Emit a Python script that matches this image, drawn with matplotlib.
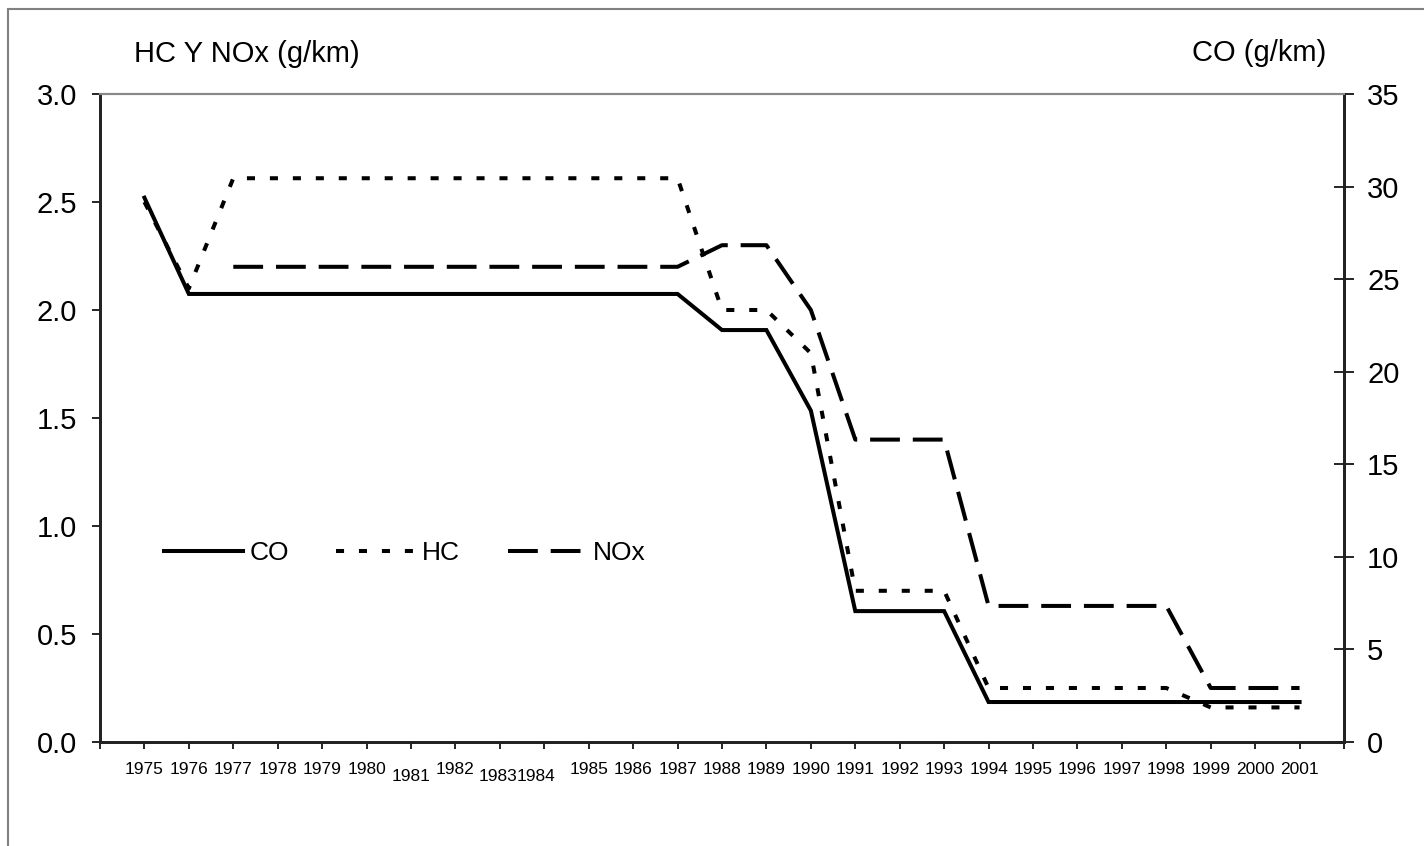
import numpy as np
import matplotlib
matplotlib.use("Agg")
import matplotlib.pyplot as plt
from matplotlib.patches import Rectangle
import matplotlib.transforms as mtrans

plt.rcParams['font.family'] = ['Liberation Sans', 'DejaVu Sans']

years = list(range(1975, 2002))
co = [29.4] + [24.2] * 12 + [22.25, 22.25, 17.9, 7.07, 7.07, 7.07] + [2.16] * 8
hc = [2.5, 2.1] + [2.61] * 11 + [2.0, 2.0, 1.8, 0.7, 0.7, 0.7] + [0.25] * 5 + [0.16] * 3
nox = [np.nan, np.nan] + [2.2] * 11 + [2.3, 2.3, 2.0, 1.4, 1.4, 1.4] + [0.63] * 5 + [0.25] * 3
left_ticks = [0.0, 0.5, 1.0, 1.5, 2.0, 2.5, 3.0]
right_ticks = [0, 5, 10, 15, 20, 25, 30, 35]
lowered = {1981: 0.0, 1983: -0.05, 1984: -0.18}

W, H = 1424, 846
fig = plt.figure(figsize=(W / 100, H / 100), dpi=100)
ax = fig.add_axes([100 / W, 1 - 742 / H, (1344 - 100) / W, (742 - 94) / H])
ax2 = ax.twinx()

lw = 2.9
l_hc, = ax.plot(years, hc, color='black', lw=lw, linestyle=(0, (2.0, 3.7)), dash_capstyle='butt')
l_nox, = ax.plot(years, nox, color='black', lw=lw, linestyle=(0, (7.4, 3.2)), dash_capstyle='butt')
l_co, = ax2.plot(years, co, color='black', lw=lw, solid_joinstyle='miter')

ax.set_xlim(1974, 2002)
ax.set_ylim(0, 3.0)
ax2.set_ylim(0, 35)
ax.set_yticks(left_ticks)
ax.set_yticklabels([f"{v:.1f}" for v in left_ticks], fontsize=21)
ax2.set_yticks(right_ticks)
ax2.set_yticklabels([str(v) for v in right_ticks], fontsize=21)
ax.set_xticks(list(range(1974, 2003)))
ax.set_xticklabels([])
ax.tick_params(axis='x', direction='out', length=5, width=1.2, color='black')
ax.tick_params(axis='y', direction='out', length=6, width=1.2, pad=10.5)
ax2.tick_params(axis='y', direction='inout', length=14.4, width=1.2, pad=9.4)

for a in (ax, ax2):
    a.spines['top'].set_color('#888888')
    a.spines['top'].set_linewidth(1.5)
    for s in ('left', 'right', 'bottom'):
        a.spines[s].set_linewidth(2.0)
        a.spines[s].set_color('#222222')

trans = mtrans.blended_transform_factory(ax.transData, ax.transAxes)
for y in years:
    dx = lowered.get(y, 0.0)
    ypos = -0.043 if y not in lowered else -0.054
    ax.text(y + dx, ypos, str(y), transform=trans, ha='center', va='center', fontsize=12.5)

fig.text(247 / W, 1 - 54 / H, "HC Y NOx (g/km)", ha='center', va='center', fontsize=21)
fig.text(1259 / W, 1 - 53 / H, "CO (g/km)", ha='center', va='center', fontsize=21)

ax.legend([l_co, l_hc, l_nox], ['CO', 'HC', 'NOx'], ncol=3, frameon=False,
          loc='center left', bbox_to_anchor=(0.032, 0.292), fontsize=19,
          handlelength=3.0, handletextpad=0.25, columnspacing=1.8)

rect = Rectangle((8 / W, -0.1), 1.2, 1 - 9 / H + 0.1, transform=fig.transFigure,
                 fill=False, edgecolor='#808080', lw=1.5, clip_on=False)
fig.add_artist(rect)

fig.savefig('out.png', dpi=100)
